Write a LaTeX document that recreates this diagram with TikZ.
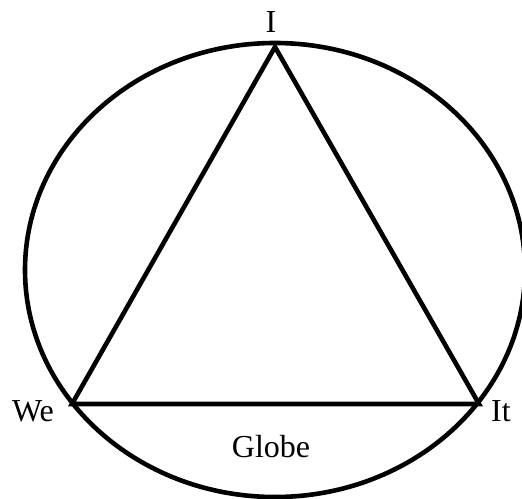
\documentclass[tikz,border=0pt]{standalone}
\usepackage{fontspec}
\setmainfont{Liberation Serif}
\usetikzlibrary{positioning}
\tikzset{ side/.style={line width=4.6bp,line join=miter},
  tag/.style={font=\fontsize{32bp}{38bp}\selectfont,inner sep=0pt,anchor=base} }

\begin{document}
\begin{tikzpicture}[x=1bp,y=-1bp]
   \useasboundingbox (0,0) rectangle (522,499);
   \draw[side] (275,270) ellipse [x radius=250,y radius=227];
   \coordinate (i) at (275,47);
   \coordinate (we) at (72,404);
   \coordinate (it) at (479,404);
   \draw[side] (i) -- (we) -- (it) -- cycle;
   \node[tag] (ilabel) at (271,33) {I};
   \node[tag] (welabel) at (33,421) {We};
   \node[tag] (itlabel) at (501,421) {It};
   \node[tag] (globe) at (271,457) {Globe};
  \end{tikzpicture}
\end{document}
